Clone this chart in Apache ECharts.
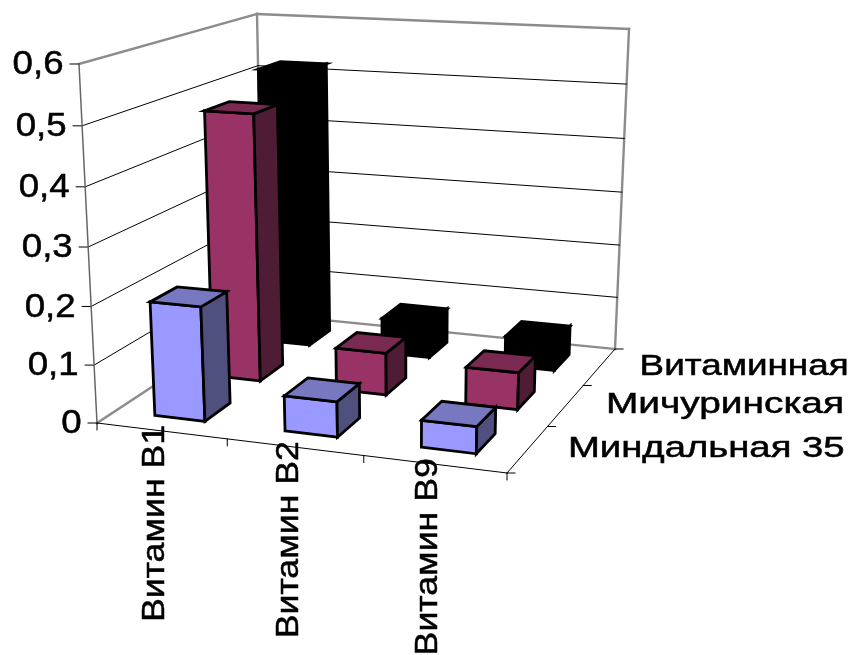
<!DOCTYPE html>
<html>
<head>
<meta charset="utf-8">
<style>html,body{margin:0;padding:0;background:#fff}#chart{width:854px;height:655px}</style>
<script src="https://cdn.jsdelivr.net/npm/echarts@6/dist/echarts.min.js"></script>
</head>
<body>
<div id="chart"></div>
<script>
// Vitamin content by apricot variety, drawn as a 3D column chart.
const categories = ['Витамин B1', 'Витамин B2', 'Витамин B9'];
const varieties = ['Миндальная 35', 'Мичуринская', 'Витаминная'];
const mindalnaya = [0.197, 0.06, 0.045];
const michurinskaya = [0.48, 0.075, 0.065];
const vitaminnaya = [0.52, 0.066, 0.055];
const valueTicks = ['0', '0,1', '0,2', '0,3', '0,4', '0,5', '0,6'];
const valueMax = 0.6;

// Box corners on screen: left-front, right-front, right-back, left-back.
const FLOOR = [[97, 423], [507, 473], [615, 349], [263, 314]];
const CEIL = [[79, 64], [517, 88], [629, 29], [257, 14]];
const HEIGHT_BEND = 0.04;
const BAR_X = [0.31, 0.70];
const BAR_Z = [0.29, 0.73];
const FONT = 'Liberation Sans, Arial, sans-serif';
const VARIETY_STRETCH = [1.32, 1.34, 1.27];

// Maps the unit square onto a screen quadrilateral.
function homography(q) {
  const [[x0, y0], [x1, y1], [x2, y2], [x3, y3]] = q;
  const dx1 = x1 - x2, dx2 = x3 - x2, sx = x0 - x1 + x2 - x3;
  const dy1 = y1 - y2, dy2 = y3 - y2, sy = y0 - y1 + y2 - y3;
  const det = dx1 * dy2 - dx2 * dy1;
  const g = (sx * dy2 - dx2 * sy) / det, h = (dx1 * sy - sx * dy1) / det;
  const a = x1 - x0 + g * x1, b = x3 - x0 + h * x3;
  const d = y1 - y0 + g * y1, e = y3 - y0 + h * y3;
  return (u, v) => {
    const w = g * u + h * v + 1;
    return [(a * u + b * v + x0) / w, (d * u + e * v + y0) / w];
  };
}
const floorMap = homography(FLOOR);
const ceilMap = homography(CEIL);

// x and z run 0..1 across the box; value is in data units.
function project(x, value, z) {
  const v = value / valueMax;
  const t = v / (1 + HEIGHT_BEND * (1 - v));
  const p = floorMap(x, z), q = ceilMap(x, z);
  return [p[0] + (q[0] - p[0]) * t, p[1] + (q[1] - p[1]) * t];
}

const line = (a, b, stroke, lineWidth) => ({
  type: 'line',
  shape: { x1: a[0], y1: a[1], x2: b[0], y2: b[1] },
  style: { stroke, lineWidth, lineCap: 'square' }
});
const label = (text, x, y, opts) => ({
  type: 'text', x, y,
  rotation: opts.rotation || 0,
  scaleX: opts.scaleX || 1,
  style: {
    x: 0, y: 0, text, fill: '#000', stroke: '#000', lineWidth: 0.5,
    font: opts.size + 'px ' + FONT,
    textAlign: opts.align, textBaseline: 'middle', verticalAlign: 'middle'
  }
});

// Walls, floor edges, gridlines and tick marks.
function renderFrame() {
  const kids = [];
  const WALL = '#8c8c8c';
  kids.push(line(project(0, 0, 0), project(0, 0, 1), WALL, 2.4));
  kids.push(line(project(0, 0, 1), project(1, 0, 1), WALL, 2.4));
  kids.push(line(project(0, valueMax, 0), project(0, valueMax, 1), WALL, 2.4));
  kids.push(line(project(0, valueMax, 1), project(1, valueMax, 1), WALL, 2.4));
  kids.push(line(project(0, 0, 1), project(0, valueMax, 1), WALL, 2.4));
  kids.push(line(project(1, 0, 1), project(1, valueMax, 1), WALL, 2.4));
  valueTicks.forEach((_, i) => {
    const val = valueMax * i / (valueTicks.length - 1);
    const a = project(0, val, 0);
    if (i > 0 && i < valueTicks.length - 1) {
      kids.push(line(a, project(0, val, 1), '#000', 1));
      kids.push(line(project(0, val, 1), project(1, val, 1), '#000', 1));
    }
    kids.push(line([a[0] - 9, a[1]], a, '#000', 1));
  });
  kids.push(line(project(0, 0, 0), project(0, valueMax, 0), '#666', 1.5));
  kids.push(line(project(0, 0, 0), project(1, 0, 0), '#000', 1));
  kids.push(line(project(1, 0, 0), project(1, 0, 1), '#000', 1));
  categories.concat(['']).forEach((_, i) => {
    const a = project(i / categories.length, 0, 0);
    kids.push(line(a, [a[0], a[1] + 7], '#000', 1));
  });
  varieties.concat(['']).forEach((_, i) => {
    const a = project(1, 0, i / varieties.length);
    kids.push(line(a, [a[0] + 8, a[1]], '#000', 1));
  });
  return { type: 'group', children: kids };
}

function renderLabels() {
  const kids = [];
  valueTicks.forEach((text, i) => {
    const a = project(0, valueMax * i / (valueTicks.length - 1), 0);
    kids.push(label(text, a[0] - 15.5, a[1] + 1, { size: 33, align: 'right', scaleX: 1.11 }));
  });
  categories.forEach((text, i) => {
    const a = project((i + 0.5) / categories.length, 0, 0);
    kids.push(label(text, a[0] - 6, a[1] - 6, { size: 32, align: 'right', rotation: Math.PI / 2, scaleX: 1.115 }));
  });
  varieties.forEach((text, i) => {
    const a = project(1, 0, (i + 0.5) / varieties.length);
    kids.push(label(text, a[0] + 40, a[1], { size: 29, align: 'left', scaleX: VARIETY_STRETCH[i] }));
  });
  return { type: 'group', children: kids };
}

function barRenderer(row, colors) {
  return function (params, api) {
    const col = api.value(0), val = api.value(1);
    const nx = categories.length, nz = varieties.length;
    const x0 = (col + BAR_X[0]) / nx, x1 = (col + BAR_X[1]) / nx;
    const z0 = (row + BAR_Z[0]) / nz, z1 = (row + BAR_Z[1]) / nz;
    const face = (pts, fill) => ({
      type: 'polygon',
      shape: { points: pts },
      style: { fill, stroke: '#000', lineWidth: 2.8, lineJoin: 'miter' }
    });
    return {
      type: 'group',
      children: [
        face([project(x0, 0, z0), project(x1, 0, z0), project(x1, val, z0), project(x0, val, z0)], colors[0]),
        face([project(x1, 0, z0), project(x1, 0, z1), project(x1, val, z1), project(x1, val, z0)], colors[1]),
        face([project(x0, val, z0), project(x1, val, z0), project(x1, val, z1), project(x0, val, z1)], colors[2])
      ]
    };
  };
}

const barSeries = (name, values, row, colors) => ({
  type: 'custom', name, coordinateSystem: 'none', silent: true,
  data: values.map((v, i) => [i, v]),
  renderItem: barRenderer(row, colors)
});

const chart = echarts.init(document.getElementById('chart'), null, { renderer: 'canvas' });
chart.setOption({
  animation: false,
  backgroundColor: '#fff',
  series: [
    { type: 'custom', coordinateSystem: 'none', silent: true, data: [0], renderItem: renderFrame },
    barSeries(varieties[2], vitaminnaya, 2, ['#000', '#000', '#000']),
    barSeries(varieties[1], michurinskaya, 1, ['#993366', '#4f1c35', '#7a2950']),
    barSeries(varieties[0], mindalnaya, 0, ['#9999ff', '#50507f', '#7878c0']),
    { type: 'custom', coordinateSystem: 'none', silent: true, data: [0], renderItem: renderLabels }
  ]
});
</script>
</body>
</html>
